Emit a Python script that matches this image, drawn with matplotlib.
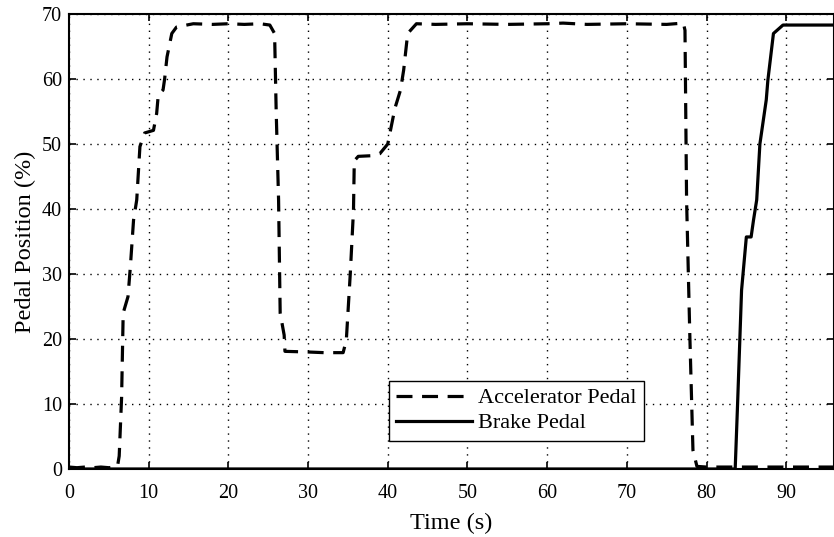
import matplotlib
matplotlib.use("Agg")
import matplotlib.pyplot as plt
import numpy as np

plt.rcParams['font.family'] = ['Liberation Serif', 'DejaVu Serif']

acc_t = [0, 1, 2, 3, 4, 5, 5.8, 6.1, 6.3, 6.6, 6.8, 7.4, 7.7, 8.1, 8.5, 8.9, 9.5,
         10.6, 11.0, 11.2, 11.8, 12.0, 12.3, 12.9, 13.5, 15.6, 18, 20, 22, 24, 25.2,
         25.8, 26.0, 26.3, 26.5, 27.0, 27.1, 30, 32, 34.4, 34.8, 35.3, 35.7, 35.8,
         36.3, 38, 39.0, 40.0, 40.9, 41.6, 42.0, 42.5, 43.6, 46, 50, 55, 60, 62, 65,
         70, 75, 77.1, 77.3, 77.5, 77.9, 78.3, 78.8, 80, 85, 90, 96]
acc_v = [0.3, 0.2, 0.3, 0.2, 0.3, 0.2, 0.3, 0.5, 2.0, 11, 24, 26.5, 31.1, 38.3, 41.4,
         49.6, 51.7, 52.1, 54.7, 57.5, 58.3, 60, 63.4, 67, 68, 68.5, 68.4, 68.5, 68.4,
         68.5, 68.3, 67, 55, 41.4, 24, 20.6, 18.1, 18.0, 17.9, 17.9, 19.8, 30.1, 39.8,
         47.4, 48.1, 48.2, 48.5, 50, 55.5, 58.3, 61.4, 67, 68.5, 68.4, 68.5, 68.4, 68.5,
         68.6, 68.4, 68.5, 68.4, 68.6, 67.5, 41.4, 20.9, 2.9, 0.4, 0.3, 0.3, 0.3, 0.3]

brk_t = [0, 83.6, 83.9, 84.4, 85.0, 85.6, 85.9, 86.3, 86.7, 87.5, 87.7, 88.4, 89.6, 96]
brk_v = [0, 0, 10, 27.5, 35.7, 35.7, 38.3, 41.4, 50, 56.8, 59.8, 67, 68.3, 68.3]

fig = plt.figure(figsize=(8.34, 5.37), dpi=100)
ax = fig.add_axes([69/834, 68/537, 1 - 69/834, (469-14)/537])

ax.plot(acc_t, acc_v, color='black', lw=2.3, dashes=(5.0, 3.0),
        label='Accelerator Pedal', zorder=3)
ax.plot(brk_t, brk_v, color='black', lw=2.3, label='Brake Pedal', zorder=3)

ax.set_xlim(0, 96)
ax.set_ylim(0, 70)
ax.set_xticks(np.arange(0, 100, 10))
ax.set_yticks(np.arange(0, 80, 10))
ax.grid(True, color='black', linestyle=(0, (1, 4)), linewidth=1.0)
ax.tick_params(direction='in', top=True, right=True, labelsize=14.5, length=5,
               width=1.2)
ax.tick_params(axis='x', pad=11)
ax.tick_params(axis='y', pad=5)
for s in ax.spines.values():
    s.set_linewidth(1.5)
ax.set_xlabel('Time (s)', fontsize=17.5, labelpad=7)
ax.set_ylabel('Pedal Position (%)', fontsize=17.5, labelpad=4)

leg = ax.legend(loc='lower left', bbox_to_anchor=(0.418, 0.062), borderaxespad=0,
                fontsize=16, handlelength=3.4, frameon=True, fancybox=False,
                edgecolor='black', framealpha=1, labelspacing=0.2,
                handletextpad=0.3, borderpad=0.33)
leg.get_frame().set_linewidth(1.0)

fig.savefig('out.png', dpi=100)
